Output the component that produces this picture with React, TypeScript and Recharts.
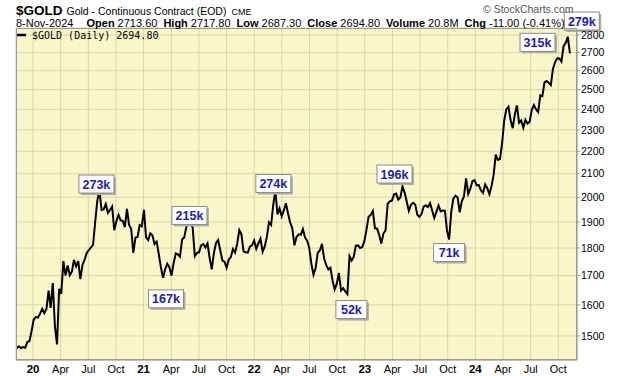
import React from 'react';
import { LineChart, Line, XAxis, YAxis, CartesianGrid, ReferenceDot } from 'recharts';

// Weekly closes (Fridays) of $GOLD from 8-Nov-2019 to 8-Nov-2024
const startYear = 2019.853; // 8-Nov-2019 as decimal year
const weekStep = 7 / 365.25;
const prices: number[] = [
  1462, 1468, 1463, 1466, 1464, 1481, 1484, 1516,
  1552, 1560, 1558, 1571, 1587,
  1573, 1586, 1648, 1590,
  1674, 1530, 1474, 1654,
  1637, 1752, 1700, 1736,
  1702, 1714, 1756, 1733, 1752,
  1688, 1738, 1756, 1782,
  1792, 1802, 1812, 1900, 1985,
  2030, 1948, 1950, 1972,
  1936, 1948, 1962, 1868,
  1903, 1928, 1906, 1905, 1880,
  1952, 1888, 1872, 1782,
  1840, 1842, 1888, 1883,
  1948, 1840, 1830, 1856, 1848,
  1815, 1824, 1778, 1730,
  1692, 1722, 1742, 1730,
  1700, 1744, 1780, 1777, 1768,
  1832, 1840, 1880, 1904,
  1893, 1878, 1770, 1782,
  1784, 1810, 1815, 1802, 1817,
  1763, 1722, 1781, 1818,
  1830, 1792, 1754, 1750,
  1728, 1757, 1767, 1796, 1783,
  1816, 1868, 1852, 1788,
  1784, 1783, 1805, 1810, 1828,
  1797, 1817, 1835, 1786,
  1806, 1842, 1898, 1888,
  1968, 2030, 1930, 1954,
  1922, 1946, 1975, 1934, 1898,
  1876, 1810, 1842, 1852,
  1850, 1872, 1840, 1828,
  1800, 1742, 1703, 1726, 1782,
  1791, 1816, 1762, 1738,
  1722, 1728, 1683, 1652, 1672,
  1709, 1648, 1656, 1645,
  1636, 1770, 1754, 1768,
  1809, 1810, 1800, 1804, 1826,
  1869, 1921, 1928, 1944,
  1876, 1874, 1850, 1817,
  1855, 1867, 1973, 1983, 1986,
  2011, 2015, 1990, 1999,
  2045, 2020, 1981, 1944,
  1969, 1977, 1970, 1929, 1920,
  1932, 1962, 1966, 1960,
  1976, 1946, 1916, 1940,
  1966, 1942, 1946, 1945, 1866,
  1832, 1941, 1994, 2006,
  1999, 1938, 1984, 2003,
  2080, 2014, 2036, 2068, 2072,
  2050, 2051, 2029, 2018,
  2054, 2038, 2013, 2046,
  2095, 2185, 2161, 2165, 2238,
  2345, 2400, 2413, 2347,
  2308, 2375, 2419, 2334, 2345,
  2310, 2349, 2330, 2339,
  2398, 2421, 2400, 2386,
  2470, 2466, 2538, 2545, 2536,
  2524, 2611, 2646, 2668,
  2667, 2650, 2736, 2755,
  2790, 2695,
];

// X ticks: quarter starts
const xTickValues: number[] = [
  2020, 2020.25, 2020.5, 2020.75,
  2021, 2021.25, 2021.5, 2021.75,
  2022, 2022.25, 2022.5, 2022.75,
  2023, 2023.25, 2023.5, 2023.75,
  2024, 2024.25, 2024.5, 2024.75,
];
const xTickLabels: string[] = [
  '20', 'Apr', 'Jul', 'Oct',
  '21', 'Apr', 'Jul', 'Oct',
  '22', 'Apr', 'Jul', 'Oct',
  '23', 'Apr', 'Jul', 'Oct',
  '24', 'Apr', 'Jul', 'Oct',
];
const yTicks: number[] = [1500, 1600, 1700, 1800, 1900, 2000, 2100, 2200, 2300, 2400, 2500, 2600, 2700, 2800];

// Header quote fields
const quoteLabels: string[] = ['Open', 'High', 'Low', 'Close', 'Volume', 'Chg'];
const quoteValues: string[] = ['2713.60', '2717.80', '2687.30', '2694.80', '20.8M', '-11.00 (-0.41%)'];

// Volume annotations: week index, label
const annotIndex: number[] = [39, 81, 69, 122, 156, 182, 204, 245, 260];
const annotText: string[] = ['273k', '215k', '167k', '274k', '52k', '196k', '71k', '315k', '279k'];
// box offsets (px) from the anchoring point
const annotDx: number[] = [-3, 1, 3, -2, 4, -8, 0, 1.5, 14];
const annotDy: number[] = [-6, -5.5, 21, -6.5, 15.5, -12.5, 13, -67, -15.7];

const data = prices.map((p, i) => ({ t: startYear + i * weekStep, price: p }));

const XTick = (props: any) => {
  const { x, y, payload } = props;
  const idx = xTickValues.indexOf(payload.value);
  const label = idx >= 0 ? xTickLabels[idx] : '';
  const isYear = /^\d+$/.test(label);
  return (
    <text
      x={x}
      y={y + 11}
      textAnchor="middle"
      fontFamily="Liberation Sans, Arial, sans-serif"
      fontSize={isYear ? 11.5 : 11}
      fontWeight={isYear ? 'bold' : 'normal'}
      fill="#000"
    >
      {label}
    </text>
  );
};

const makeBox = (text: string, dx: number, dy: number) => (props: any) => {
  const { cx, cy } = props;
  if (cx == null || cy == null) return <g />;
  const w = text.length >= 4 ? 35 : 31;
  const h = 18;
  const bx = cx + dx - w / 2;
  const by = cy + dy - h / 2;
  return (
    <g>
      <rect x={bx + 2} y={by + 2} width={w} height={h} fill="#b0b0a0" />
      <rect x={bx} y={by} width={w} height={h} fill="#ffffff" stroke="#8a8a8a" strokeWidth={1} />
      <text
        x={bx + w / 2}
        y={by + 13.5}
        textAnchor="middle"
        fontFamily="Liberation Sans, Arial, sans-serif"
        fontWeight="bold"
        fontSize={12.5}
        fill="#1c1cae"
      >
        {text}
      </text>
    </g>
  );
};

const sans = 'Liberation Sans, Arial, sans-serif';

export default function App() {
  return (
    <div style={{ position: 'absolute', left: 0, top: 0, width: 620, height: 376, background: '#ffffff', overflow: 'hidden' }}>
      <LineChart width={620} height={376} data={data} margin={{ top: 28, right: 0, left: 16, bottom: 0 }}>
        <CartesianGrid fill="#f9f7ca" stroke="#d9d6a4" strokeWidth={1} />
        <XAxis
          dataKey="t"
          type="number"
          domain={[2019.846, 2024.919]}
          allowDataOverflow
          ticks={xTickValues}
          tick={<XTick />}
          tickLine={false}
          tickSize={0}
          height={16}
          axisLine={{ stroke: '#9a9a9a' }}
          interval={0}
        />
        <YAxis
          orientation="right"
          type="number"
          scale="log"
          domain={[1427, 2841]}
          allowDataOverflow
          ticks={yTicks}
          width={43}
          tickSize={3}
          tickMargin={1}
          tickLine={{ stroke: '#9a9a9a' }}
          axisLine={{ stroke: '#9a9a9a' }}
          tick={{ fontFamily: sans, fontSize: 10.5, fill: '#000' }}
          interval={0}
        />
        <Line
          type="linear"
          dataKey="price"
          stroke="#000000"
          strokeWidth={2}
          dot={false}
          isAnimationActive={false}
        />
        {annotIndex.map((idx, k) => (
          <ReferenceDot
            key={k}
            x={data[idx].t}
            y={data[idx].price}
            ifOverflow="visible"
            shape={makeBox(annotText[k], annotDx[k], annotDy[k])}
          />
        ))}
      </LineChart>
      <div style={{ position: 'absolute', left: 16, top: 28, width: 561, height: 332, border: '1px solid #9a9a9a', boxSizing: 'border-box', pointerEvents: 'none' }} />
      <svg width={620} height={376} style={{ position: 'absolute', left: 0, top: 0, pointerEvents: 'none' }}>
        <text x={16} y={15} fontFamily={sans} fill="#000">
          <tspan fontWeight="bold" fontSize={13.5}>$GOLD</tspan>
          <tspan dx={4} fontSize={10.5}>Gold - Continuous Contract (EOD)</tspan>
          <tspan dx={5} fontSize={9}>CME</tspan>
        </text>
        <text x={483} y={13} fontFamily={sans} fontSize={10.5} fill="#555">© StockCharts.com</text>
        <text x={16} y={26.5} fontFamily={sans} fill="#000">
          <tspan fontSize={11}>8-Nov-2024</tspan>
          {quoteLabels.map((lab, k) => (
            <React.Fragment key={k}>
              <tspan dx={k === 0 ? 13 : 6} fontWeight="bold" fontSize={11}>{lab}</tspan>
              <tspan dx={3} fontSize={11}>{quoteValues[k]}</tspan>
            </React.Fragment>
          ))}
        </text>
        <line x1={17} y1={35} x2={26} y2={35} stroke="#000" strokeWidth={2.5} />
        <text x={32} y={38.5} fontFamily="DejaVu Sans Mono, monospace" fontSize={10} fill="#000">$GOLD (Daily) 2694.80</text>
      </svg>
    </div>
  );
}
